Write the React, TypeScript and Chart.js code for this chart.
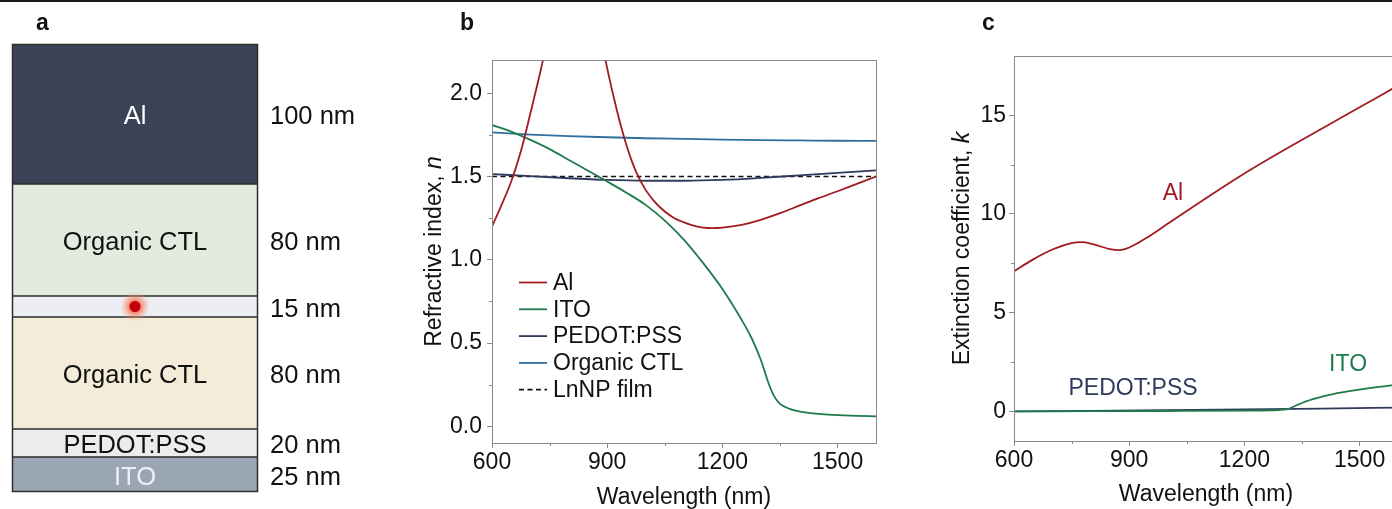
import React, { useEffect, useRef } from 'react';
import { Chart, registerables } from 'chart.js';

Chart.register(...registerables);

const FONT = "'Liberation Sans', Arial, Helvetica, sans-serif";

// ---------- Panel a: device stack (bottom to top) ----------
const layerNames = ['ITO', 'PEDOT:PSS', 'Organic CTL (bottom)', 'LnNP film', 'Organic CTL (top)', 'Al'];
const layerLabels = ['ITO', 'PEDOT:PSS', 'Organic CTL', '', 'Organic CTL', 'Al'];
const layerThickness = [25, 20, 80, 15, 80, 100];
const layerColors = ['#9aa6b3', '#ececec', '#f4ecd8', '#eceef3', '#e3ebdf', '#3a4256'];
const layerTextColors = ['#eef1f5', '#111111', '#111111', '#111111', '#111111', '#ffffff'];
const emitterLayerIndex = 3;

// ---------- Panel b: refractive index n ----------
const alNWl = [600, 625, 650, 675, 700, 725, 750, 775, 800, 825, 850, 875, 900, 925, 950, 975, 1000, 1025, 1050, 1075, 1100, 1125, 1150, 1175, 1200, 1250, 1300, 1350, 1400, 1450, 1500, 1550, 1600];
const alN = [1.2, 1.33, 1.47, 1.65, 1.88, 2.12, 2.38, 2.6, 2.76, 2.82, 2.72, 2.45, 2.15, 1.9, 1.69, 1.53, 1.42, 1.345, 1.29, 1.25, 1.225, 1.205, 1.193, 1.19, 1.193, 1.21, 1.24, 1.28, 1.325, 1.37, 1.412, 1.456, 1.5];

const itoNWl = [600, 650, 700, 750, 800, 850, 900, 950, 1000, 1050, 1100, 1150, 1200, 1250, 1275, 1300, 1320, 1335, 1350, 1375, 1400, 1450, 1500, 1550, 1600];
const itoN = [1.81, 1.77, 1.72, 1.665, 1.6, 1.535, 1.47, 1.403, 1.33, 1.235, 1.12, 0.98, 0.825, 0.64, 0.535, 0.4, 0.26, 0.18, 0.135, 0.105, 0.09, 0.075, 0.068, 0.063, 0.06];

const pedotNWl = [600, 700, 800, 900, 1000, 1100, 1200, 1300, 1400, 1500, 1600];
const pedotN = [1.515, 1.503, 1.49, 1.48, 1.475, 1.475, 1.48, 1.492, 1.507, 1.522, 1.537];

const ctlNWl = [600, 700, 800, 900, 1000, 1100, 1200, 1300, 1400, 1500, 1600];
const ctlN = [1.765, 1.752, 1.743, 1.736, 1.73, 1.726, 1.722, 1.719, 1.717, 1.715, 1.714];

const lnnpNWl = [600, 1600];
const lnnpN = [1.5, 1.5];

const nTicks = [0, 0.5, 1.0, 1.5, 2.0];
const nMinorTicks = [0.25, 0.75, 1.25, 1.75];

// ---------- Panel c: extinction coefficient k ----------
const alKWl = [600, 650, 700, 750, 775, 800, 850, 875, 900, 950, 1000, 1100, 1200, 1300, 1400, 1500, 1600];
const alK = [7.1, 7.7, 8.2, 8.52, 8.57, 8.5, 8.22, 8.17, 8.3, 8.85, 9.5, 10.8, 12.05, 13.2, 14.3, 15.4, 16.5];

const itoKWl = [600, 800, 1000, 1200, 1290, 1313, 1335, 1362, 1400, 1431, 1500, 1550, 1600];
const itoK = [0.0, 0.01, 0.02, 0.04, 0.07, 0.12, 0.3, 0.52, 0.74, 0.88, 1.1, 1.24, 1.36];

const pedotKWl = [600, 800, 1000, 1200, 1400, 1600];
const pedotK = [0.0, 0.03, 0.06, 0.1, 0.14, 0.19];

const kTicks = [0, 5, 10, 15];
const kMinorTicks = [2.5, 7.5, 12.5];

const wlTicks = [600, 900, 1200, 1500];
const wlMinorTicks = [750, 1050, 1350];

const C_AL = '#a01b22';
const C_ITO = '#1f7a4c';
const C_PEDOT = '#2f3a5c';
const C_CTL = '#2f6e9e';
const C_LNNP = '#111111';
const AXIS = '#8a8a8a';

function series(label: string, wl: number[], vals: number[], color: string, extra: any = {}) {
  return {
    label,
    data: wl.map((x, i) => ({ x, y: vals[i] })),
    borderColor: color,
    backgroundColor: color,
    borderWidth: 1.8,
    pointRadius: 0,
    cubicInterpolationMode: 'monotone',
    fill: false,
    ...extra,
  };
}

function drawMixed(ctx: CanvasRenderingContext2D, parts: { t: string; i?: boolean }[], size: number) {
  let total = 0;
  const widths = parts.map((p) => {
    ctx.font = `${p.i ? 'italic ' : ''}${size}px ${FONT}`;
    const w = ctx.measureText(p.t).width;
    total += w;
    return w;
  });
  let x = -total / 2;
  parts.forEach((p, idx) => {
    ctx.font = `${p.i ? 'italic ' : ''}${size}px ${FONT}`;
    ctx.fillText(p.t, x, 0);
    x += widths[idx];
  });
}

function framePlugin(opts: { yTitle: { t: string; i?: boolean }[]; yTitleOffset: number; xTitleY: number; xMinor: number[]; yMinor: number[] }) {
  return {
    id: 'frameDeco',
    afterDraw(chart: any) {
      const { ctx, chartArea } = chart;
      const { left, right, top, bottom } = chartArea;
      ctx.save();
      ctx.strokeStyle = AXIS;
      ctx.lineWidth = 1;
      ctx.strokeRect(Math.round(left) + 0.5, Math.round(top) + 0.5, Math.round(right - left), Math.round(bottom - top));
      const xs = chart.scales.x;
      const ys = chart.scales.y;
      ctx.beginPath();
      opts.xMinor.forEach((v) => {
        const px = Math.round(xs.getPixelForValue(v)) + 0.5;
        ctx.moveTo(px, bottom);
        ctx.lineTo(px, bottom + 3);
      });
      opts.yMinor.forEach((v) => {
        const py = Math.round(ys.getPixelForValue(v)) + 0.5;
        ctx.moveTo(left - 3, py);
        ctx.lineTo(left, py);
      });
      ctx.stroke();
      ctx.fillStyle = '#111';
      ctx.textBaseline = 'middle';
      ctx.textAlign = 'left';
      ctx.save();
      ctx.translate(left + opts.yTitleOffset, (top + bottom) / 2);
      ctx.rotate(-Math.PI / 2);
      drawMixed(ctx, opts.yTitle, 23);
      ctx.restore();
      ctx.save();
      ctx.translate((left + right) / 2, opts.xTitleY);
      drawMixed(ctx, [{ t: 'Wavelength (nm)' }], 23);
      ctx.restore();
      ctx.restore();
    },
  };
}

function axes(yMin: number, yMax: number, yT: number[], yFmt: (v: number) => string, yWidth: number, xHeight: number, yPad: number) {
  return {
    x: {
      type: 'linear',
      min: 600,
      max: 1600,
      afterBuildTicks: (s: any) => {
        s.ticks = wlTicks.map((v) => ({ value: v }));
      },
      afterFit: (s: any) => {
        s.height = xHeight;
      },
      ticks: {
        callback: (v: any) => String(v),
        font: { family: FONT, size: 23 },
        color: '#111',
        padding: 1,
        maxRotation: 0,
        autoSkip: false,
      },
      grid: { drawOnChartArea: false, tickLength: 5, color: AXIS },
      border: { display: false },
    },
    y: {
      type: 'linear',
      min: yMin,
      max: yMax,
      afterBuildTicks: (s: any) => {
        s.ticks = yT.map((v) => ({ value: v }));
      },
      afterFit: (s: any) => {
        s.width = yWidth;
      },
      ticks: {
        callback: (v: any) => yFmt(Number(v)),
        font: { family: FONT, size: 23 },
        color: '#111',
        padding: yPad,
        autoSkip: false,
      },
      grid: { drawOnChartArea: false, tickLength: 5, color: AXIS },
      border: { display: false },
    },
  };
}

function PanelA() {
  const ref = useRef<HTMLCanvasElement>(null);
  useEffect(() => {
    const total = layerThickness.reduce((a, b) => a + b, 0);
    const below = layerThickness.slice(0, emitterLayerIndex).reduce((a, b) => a + b, 0);
    const dotValue = below + layerThickness[emitterLayerIndex] / 2;
    const dotIdx = layerThickness.length;
    const chart = new Chart(ref.current as HTMLCanvasElement, {
      type: 'bar',
      data: {
        labels: ['stack'],
        datasets: [
          ...layerThickness.map((t, i) => ({
            label: layerNames[i],
            data: [t],
            backgroundColor: layerColors[i],
            borderColor: '#2e2e2e',
            borderWidth: 1,
            borderSkipped: false,
            barPercentage: 1,
            categoryPercentage: 1,
            order: 1,
          })),
          {
            type: 'line',
            label: 'emitter',
            data: [dotValue],
            yAxisID: 'yDot',
            showLine: false,
            order: -1,
            pointRadius: 5.5,
            pointBackgroundColor: '#c4000b',
            pointBorderWidth: 0,
            pointBorderColor: '#c4000b',
          },
        ],
      } as any,
      options: {
        responsive: false,
        animation: false,
        events: [],
        layout: { padding: { left: 12, top: 44, right: 142, bottom: 17 } },
        plugins: { legend: { display: false }, tooltip: { enabled: false } },
        scales: {
          x: { stacked: true, display: false },
          y: { stacked: true, display: false, min: 0, max: total },
          yDot: { display: false, min: 0, max: total },
        },
      } as any,
      plugins: [
        {
          id: 'stackDeco',
          beforeDatasetDraw(c: any, args: any) {
            if (args.index !== dotIdx) return;
            const el = c.getDatasetMeta(dotIdx).data[0];
            const g = c.ctx.createRadialGradient(el.x, el.y, 4, el.x, el.y, 15);
            g.addColorStop(0, 'rgba(250,80,45,0.85)');
            g.addColorStop(0.45, 'rgba(252,120,90,0.5)');
            g.addColorStop(1, 'rgba(255,170,140,0)');
            c.ctx.save();
            c.ctx.fillStyle = g;
            c.ctx.beginPath();
            c.ctx.arc(el.x, el.y, 15, 0, Math.PI * 2);
            c.ctx.fill();
            c.ctx.restore();
          },
          afterDatasetsDraw(c: any) {
            const { ctx, chartArea } = c;
            ctx.save();
            ctx.strokeStyle = '#2e2e2e';
            ctx.lineWidth = 1.5;
            ctx.strokeRect(chartArea.left + 0.5, chartArea.top + 0.5, chartArea.right - chartArea.left - 1, chartArea.bottom - chartArea.top - 1);
            ctx.font = `25.5px ${FONT}`;
            ctx.textBaseline = 'middle';
            layerThickness.forEach((t, i) => {
              const el = c.getDatasetMeta(i).data[0];
              const cy = (el.y + el.base) / 2 + 3;
              if (layerLabels[i]) {
                ctx.fillStyle = layerTextColors[i];
                ctx.textAlign = 'center';
                ctx.fillText(layerLabels[i], el.x, cy);
              }
              ctx.fillStyle = '#111';
              ctx.textAlign = 'left';
              ctx.fillText(`${t} nm`, chartArea.right + 12, cy);
            });
            ctx.restore();
          },
        },
      ],
    });
    return () => chart.destroy();
  }, []);
  return <canvas ref={ref} width={400} height={509} style={{ position: 'absolute', left: 0, top: 0, width: 400, height: 509 }} />;
}

function PanelB() {
  const ref = useRef<HTMLCanvasElement>(null);
  useEffect(() => {
    const datasets = [
      series('Al', alNWl, alN, C_AL),
      series('ITO', itoNWl, itoN, C_ITO),
      series('PEDOT:PSS', pedotNWl, pedotN, C_PEDOT),
      series('Organic CTL', ctlNWl, ctlN, C_CTL),
      series('LnNP film', lnnpNWl, lnnpN, C_LNNP, { borderDash: [5, 3.5], borderWidth: 1.5, cubicInterpolationMode: 'default' }),
    ];
    const chart = new Chart(ref.current as HTMLCanvasElement, {
      type: 'line',
      data: { datasets } as any,
      options: {
        responsive: false,
        animation: false,
        events: [],
        layout: { padding: { left: 0, top: 60, right: 24, bottom: 0 } },
        plugins: { legend: { display: false }, tooltip: { enabled: false } },
        scales: axes(-0.1, 2.2, nTicks, (v) => v.toFixed(1), 92, 66, 5) as any,
      } as any,
      plugins: [
        framePlugin({
          yTitle: [{ t: 'Refractive index, ' }, { t: 'n', i: true }],
          yTitleOffset: -57,
          xTitleY: 498,
          xMinor: wlMinorTicks,
          yMinor: nMinorTicks,
        }),
        {
          id: 'legendInside',
          afterDraw(c: any) {
            const { ctx } = c;
            ctx.save();
            ctx.font = `23px ${FONT}`;
            ctx.textBaseline = 'middle';
            ctx.textAlign = 'left';
            c.data.datasets.forEach((ds: any, i: number) => {
              const y = 282.5 + i * 26.8;
              ctx.strokeStyle = ds.borderColor;
              ctx.lineWidth = 1.8;
              ctx.setLineDash(ds.borderDash || []);
              ctx.beginPath();
              ctx.moveTo(119, y);
              ctx.lineTo(147, y);
              ctx.stroke();
              ctx.setLineDash([]);
              ctx.fillStyle = '#111';
              ctx.fillText(ds.label, 153, y + 1);
            });
            ctx.restore();
          },
        },
      ],
    });
    return () => chart.destroy();
  }, []);
  return <canvas ref={ref} width={500} height={509} style={{ position: 'absolute', left: 400, top: 0, width: 500, height: 509 }} />;
}

function PanelC() {
  const ref = useRef<HTMLCanvasElement>(null);
  useEffect(() => {
    const datasets = [
      series('Al', alKWl, alK, C_AL),
      series('ITO', itoKWl, itoK, C_ITO),
      series('PEDOT:PSS', pedotKWl, pedotK, C_PEDOT),
    ];
    const labelsAt = [
      { t: 'Al', x: 1014, y: 11.05, c: C_AL },
      { t: 'PEDOT:PSS', x: 910, y: 1.17, c: C_PEDOT },
      { t: 'ITO', x: 1470, y: 2.38, c: C_ITO },
    ];
    const chart = new Chart(ref.current as HTMLCanvasElement, {
      type: 'line',
      data: { datasets } as any,
      options: {
        responsive: false,
        animation: false,
        events: [],
        layout: { padding: { left: 0, top: 56, right: 22, bottom: 0 } },
        plugins: { legend: { display: false }, tooltip: { enabled: false } },
        scales: axes(-1.5, 18, kTicks, (v) => String(v), 114, 68, 3) as any,
      } as any,
      plugins: [
        framePlugin({
          yTitle: [{ t: 'Extinction coefficient, ' }, { t: 'k', i: true }],
          yTitleOffset: -51,
          xTitleY: 495,
          xMinor: wlMinorTicks,
          yMinor: kMinorTicks,
        }),
        {
          id: 'seriesLabels',
          afterDraw(c: any) {
            const { ctx } = c;
            ctx.save();
            ctx.font = `23px ${FONT}`;
            ctx.textBaseline = 'middle';
            ctx.textAlign = 'center';
            labelsAt.forEach((l) => {
              ctx.fillStyle = l.c;
              ctx.fillText(l.t, c.scales.x.getPixelForValue(l.x), c.scales.y.getPixelForValue(l.y));
            });
            ctx.restore();
          },
        },
      ],
    });
    return () => chart.destroy();
  }, []);
  return <canvas ref={ref} width={520} height={509} style={{ position: 'absolute', left: 900, top: 0, width: 520, height: 509 }} />;
}

const letterStyle: React.CSSProperties = {
  position: 'absolute',
  top: 8,
  fontFamily: FONT,
  fontWeight: 'bold',
  fontSize: 23,
  lineHeight: '28px',
  color: '#111',
};

export default function App() {
  return (
    <div style={{ position: 'fixed', left: 0, top: 0, width: 1392, height: 509, overflow: 'hidden', background: '#fff' }}>
      <PanelA />
      <PanelB />
      <PanelC />
      <div style={{ position: 'absolute', left: 0, top: 0, width: 1392, height: 2, background: '#1a1a1a' }} />
      <div style={{ ...letterStyle, left: 36 }}>a</div>
      <div style={{ ...letterStyle, left: 460 }}>b</div>
      <div style={{ ...letterStyle, left: 982 }}>c</div>
    </div>
  );
}
